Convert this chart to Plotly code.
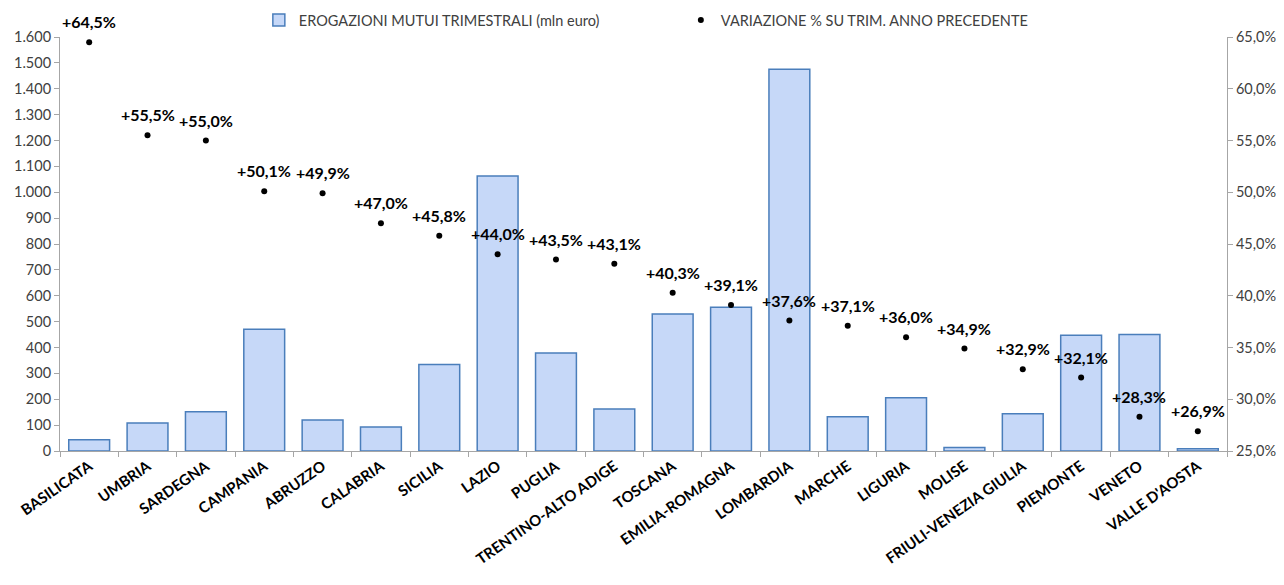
import plotly.graph_objects as go

regions = ["BASILICATA", "UMBRIA", "SARDEGNA", "CAMPANIA", "ABRUZZO", "CALABRIA",
           "SICILIA", "LAZIO", "PUGLIA", "TRENTINO-ALTO ADIGE", "TOSCANA",
           "EMILIA-ROMAGNA", "LOMBARDIA", "MARCHE", "LIGURIA", "MOLISE",
           "FRIULI-VENEZIA GIULIA", "PIEMONTE", "VENETO", "VALLE D'AOSTA"]
erogazioni = [43, 108, 152, 471, 120, 93, 334, 1063, 379, 162, 529, 556, 1475,
              132, 206, 14, 144, 447, 450, 9]
variazione = [64.5, 55.5, 55.0, 50.1, 49.9, 47.0, 45.8, 44.0, 43.5, 43.1, 40.3,
              39.1, 37.6, 37.1, 36.0, 34.9, 32.9, 32.1, 28.3, 26.9]

labels = ["+" + f"{v:.1f}".replace(".", ",") + "%" for v in variazione]

FONT = "Lato"
fig = go.Figure()
fig.add_trace(go.Bar(
    x=regions, y=erogazioni, name="EROGAZIONI MUTUI TRIMESTRALI (mln euro)",
    marker=dict(color="#c6d8f8", line=dict(color="#4a7ebb", width=1.5)),
    width=0.7, yaxis="y",
))
fig.add_trace(go.Scatter(
    x=regions, y=[v / 100 for v in variazione], name="VARIAZIONE % SU TRIM. ANNO PRECEDENTE",
    mode="markers", marker=dict(color="#000000", size=6), yaxis="y2", cliponaxis=False,
))

for r, v, t in zip(regions, variazione, labels):
    fig.add_annotation(x=r, y=v / 100, xref="x", yref="y2", text=t, showarrow=False,
                       yanchor="bottom", yshift=9,
                       font=dict(family=FONT, size=16, color="#000000", weight="bold"))

fig.update_layout(
    width=1276, height=577,
    margin=dict(l=52, r=57, t=29, b=134, autoexpand=False),
    paper_bgcolor="white", plot_bgcolor="white",
    separators=",.",
    font=dict(family=FONT, size=14, color="#404040"),
    showlegend=True,
    legend=dict(orientation="h", x=0.532, xanchor="center", y=1.041, yanchor="middle",
                font=dict(size=14.5, color="#404040"), entrywidth=377,
                bgcolor="rgba(0,0,0,0)"),
    bargap=0.3,
    xaxis=dict(range=[-0.5, len(regions) - 0.5],
               showline=True, linecolor="#a6a6a6", linewidth=1, automargin=False,
               ticks="outside", tickson="boundaries", ticklen=5, tickcolor="#a6a6a6",
               tickangle=-35,
               tickfont=dict(family=FONT, size=15, color="#000000", weight="bold"),
               showgrid=False),
    yaxis=dict(range=[0, 1600], dtick=100, tickformat=",d", showline=True,
               linecolor="#a6a6a6", ticks="outside", ticklen=5, tickcolor="#a6a6a6",
               showgrid=False, zeroline=False, automargin=False,
               tickfont=dict(family=FONT, size=14.5, color="#404040")),
    yaxis2=dict(range=[0.25, 0.65], dtick=0.05, tickformat=".1%", overlaying="y",
                side="right", showline=True, linecolor="#a6a6a6", ticks="outside",
                ticklen=5, tickcolor="#a6a6a6", showgrid=False, zeroline=False,
                automargin=False,
                tickfont=dict(family=FONT, size=14.5, color="#404040")),
)

fig.write_html("out.html")
